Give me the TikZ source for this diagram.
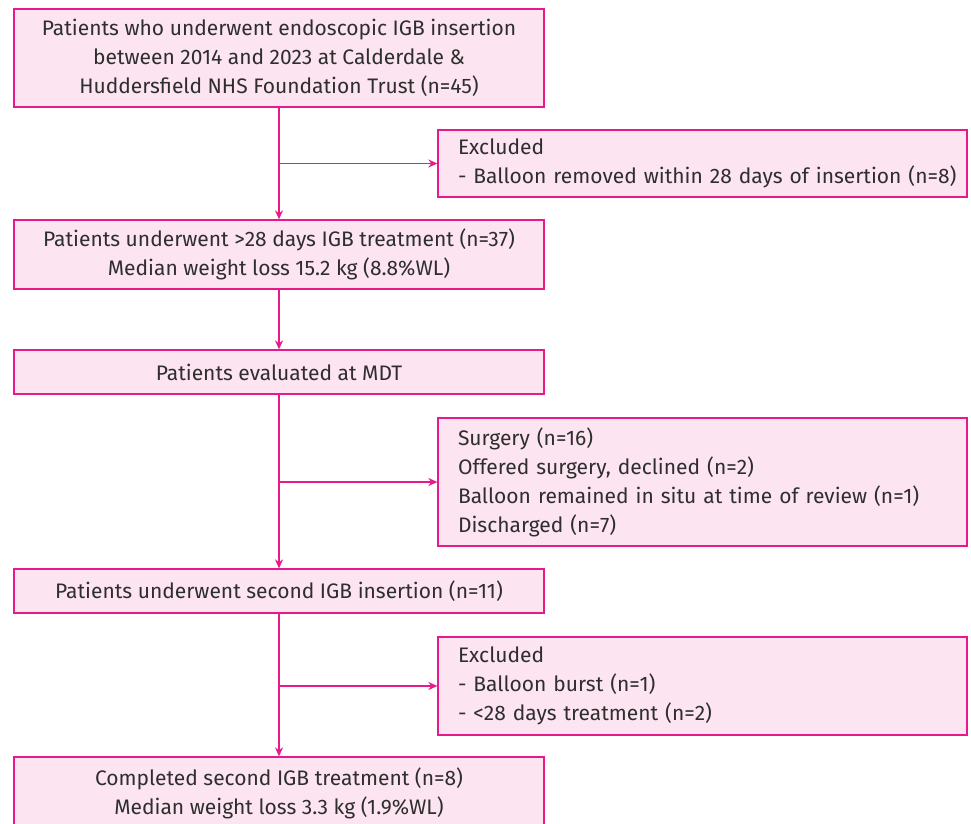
\documentclass[tikz,border=0pt]{standalone}
\usepackage{fontspec}
\setmainfont{Fira Sans}
\usetikzlibrary{arrows.meta}
\definecolor{pinkline}{HTML}{E8198B}
\definecolor{pinkfill}{HTML}{FCE4F1}
\definecolor{txt}{HTML}{2E2E2E}
\tikzset{
  box/.style={draw=pinkline, fill=pinkfill, line width=1.3pt, text=txt,
    font=\fontsize{21}{29}\selectfont, inner sep=0pt, align=center,
    minimum width=530pt},
  sidebox/.style={draw=pinkline, fill=pinkfill, line width=1.3pt, text=txt,
    font=\fontsize{21}{29}\selectfont, inner xsep=10pt, inner ysep=0pt,
    align=left, text width=509pt,
    execute at begin node={\leftskip=10pt\relax}},
  conn/.style={draw=pinkline, line width=1.3pt},
  arr/.style={conn, -{Stealth[length=9pt,width=8pt]}}
}
\begin{document}
\begin{tikzpicture}[x=1pt,y=-1pt]
\useasboundingbox (0,0) rectangle (971,823);
\node[box, minimum height=98pt] (b1) at (279,58) {Patients who underwent endoscopic IGB insertion\\between 2014 and 2023 at Calderdale \&\\Huddersfield NHS Foundation Trust (n=45)};
\node[sidebox, minimum height=67pt] (e1) at (702.5,163.5) {Excluded\\- Balloon removed within 28 days of insertion (n=8)};
\node[box, minimum height=69pt] (b2) at (279,254.5) {Patients underwent >28 days IGB treatment (n=37)\\Median weight loss 15.2 kg (8.8\%WL)};
\node[box, minimum height=44pt] (b3) at (279,372) {Patients evaluated at MDT};
\node[sidebox, minimum height=128pt] (e2) at (702.5,482) {Surgery (n=16)\\Offered surgery, declined (n=2)\\Balloon remained in situ at time of review (n=1)\\Discharged (n=7)};
\node[box, minimum height=44pt] (b5) at (279,591) {Patients underwent second IGB insertion (n=11)};
\node[sidebox, minimum height=98pt] (e3) at (702.5,686) {Excluded\\- Balloon burst (n=1)\\- <28 days treatment (n=2)};
\node[box, minimum height=72pt] (b7) at (279,793) {Completed second IGB treatment (n=8)\\Median weight loss 3.3 kg (1.9\%WL)};
\coordinate (j1) at (b1.south |- e1.west);
\coordinate (j2) at (b3.south |- e2.west);
\coordinate (j3) at (b5.south |- e3.west);
\draw[arr] (b1.south) -- (b2.north);
\draw[arr] (j1) -- (e1.west);
\draw[arr] (b2.south) -- (b3.north);
\draw[arr] (b3.south) -- (b5.north);
\draw[arr] (j2) -- (e2.west);
\draw[arr] (b5.south) -- (b7.north);
\draw[arr] (j3) -- (e3.west);
\end{tikzpicture}
\end{document}
